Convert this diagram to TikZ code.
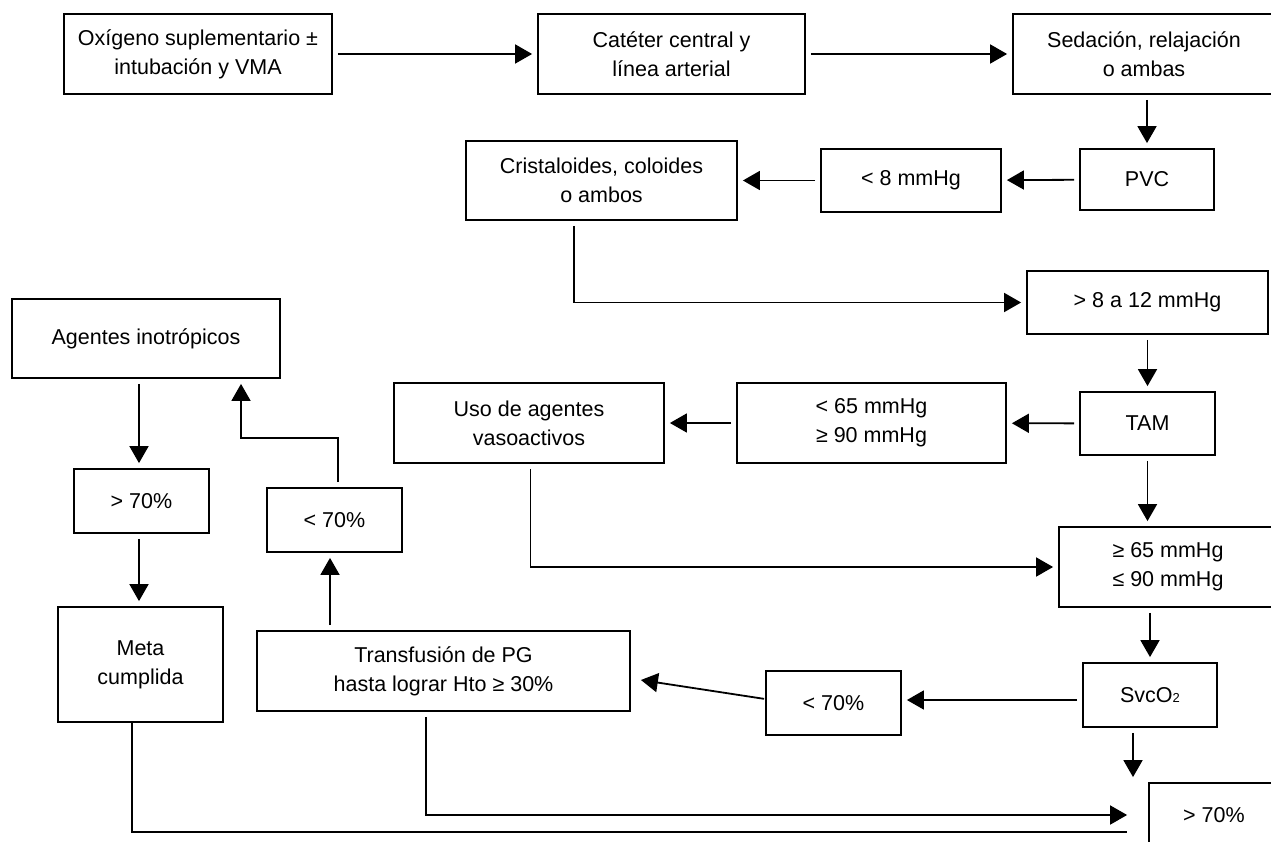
\documentclass[tikz,border=0pt]{standalone}
\usepackage{fontspec}
\setmainfont{Liberation Sans}
\usetikzlibrary{arrows.meta,calc}
\begin{document}
\begin{tikzpicture}[x=1pt,y=-1pt,
  box/.style={draw, line width=1.8pt, align=center, inner sep=0pt, font=\fontsize{21.5}{29}\selectfont},
  arr/.style={line width=1.8pt, -{Triangle[length=17pt,width=19pt]}, shorten <=5pt, shorten >=5pt},
  ln/.style={line width=1.8pt}]
\useasboundingbox (0,0) rectangle (1271,842);
\fill[white] (0,0) rectangle (1271,842);
\clip (0,0) rectangle (1271,842);

\node[box, minimum width=268, minimum height=80] (oxi) at (198,54) {Oxígeno suplementario ±\\intubación y VMA};
\node[box, minimum width=267, minimum height=80] (cat) at (671.5,54) {Catéter central y\\línea arterial};
\node[box, minimum width=262, minimum height=80] (sed) at (1144,54) {Sedación, relajación\\o ambas};
\node[box, minimum width=134, minimum height=61] (pvc) at (1147,179.5) {PVC};
\node[box, minimum width=180, minimum height=63] (l8) at (911,180.5) {< 8 mmHg};
\node[box, minimum width=271, minimum height=79] (cris) at (601.5,180.5) {Cristaloides, coloides\\o ambos};
\node[box, minimum width=241, minimum height=63] (g812) at (1147.5,302.5) {> 8 a 12 mmHg};
\node[box, minimum width=135, minimum height=63] (tam) at (1147.5,423.5) {TAM};
\node[box, minimum width=269, minimum height=80] (l65) at (871.5,423) {< 65 mmHg\\≥ 90 mmHg};
\node[box, minimum width=270, minimum height=80] (uso) at (529,423) {Uso de agentes\\vasoactivos};
\node[box, minimum width=218, minimum height=80] (g65) at (1168,567) {≥ 65 mmHg\\≤ 90 mmHg};
\node[box, minimum width=134, minimum height=64] (svc) at (1150,695) {SvcO{\fontsize{13}{13}\selectfont 2}};
\node[box, minimum width=135, minimum height=64] (r70) at (833.5,703) {< 70\%};
\node[box, minimum width=373, minimum height=80] (transf) at (443.5,671) {Transfusión de PG\\hasta lograr Hto ≥ 30\%};
\node[box, minimum width=135, minimum height=64] (l70) at (334.5,520) {< 70\%};
\node[box, minimum width=268, minimum height=79] (agen) at (146,338.5) {Agentes inotrópicos};
\node[box, minimum width=135, minimum height=64] (g70a) at (141.5,501) {> 70\%};
\node[box, minimum width=165, minimum height=115] (meta) at (140.5,664.5) {Meta\\cumplida};
\node[box, minimum width=130, minimum height=64] (g70b) at (1214,815) {> 70\%};

% top row
\draw[arr] (oxi) -- (cat);
\draw[arr] (cat) -- (sed);
\draw[arr] (sed.south -| pvc.north) -- (pvc.north);
\draw[arr] (pvc) -- (l8);
\draw[arr] (l8) -- (cris);
\draw[arr] ([xshift=-27.5pt]cris.south) |- (g812.west);
\draw[arr] (g812) -- (tam);
\draw[arr] (tam) -- (l65);
\draw[arr] (l65) -- (uso);
\draw[arr] (tam.south) -- (tam.south |- g65.north);
\draw[arr] ([xshift=1.5pt]uso.south) |- (g65.west);
\draw[arr] (g65.south -| svc.north) -- (svc.north);
\draw[arr] ([yshift=-5pt]svc.west) -- ([yshift=-5pt]svc.west -| r70.east);
\draw[arr, shorten <=1pt, shorten >=0pt] ([yshift=4pt]r70.west) -- ([xshift=10pt,yshift=-9pt]transf.east);
\draw[arr] ([xshift=-17pt]svc.south) -- ([xshift=-17pt]svc.south |- g70b.north);
\draw[arr, shorten >=21pt] ([xshift=-17.5pt]transf.south) |- (g70b.west);
\draw[ln] ([xshift=-8.5pt]meta.south) |- ([xshift=-21pt,yshift=-17pt]g70b.west);
% left side
\draw[arr] ([xshift=-7pt]agen.south) -- ([xshift=-7pt]agen.south |- g70a.north);
\draw[arr] ([xshift=-2.5pt]g70a.south) -- ([xshift=-2.5pt]g70a.south |- meta.north);
\draw[arr] ([xshift=3.5pt]l70.north) -- ++(0,-49) -| ([xshift=95pt]agen.south);
\draw[arr] ([xshift=-113.5pt]transf.north) -- ([xshift=-113.5pt]transf.north |- l70.south);
\end{tikzpicture}
\end{document}
